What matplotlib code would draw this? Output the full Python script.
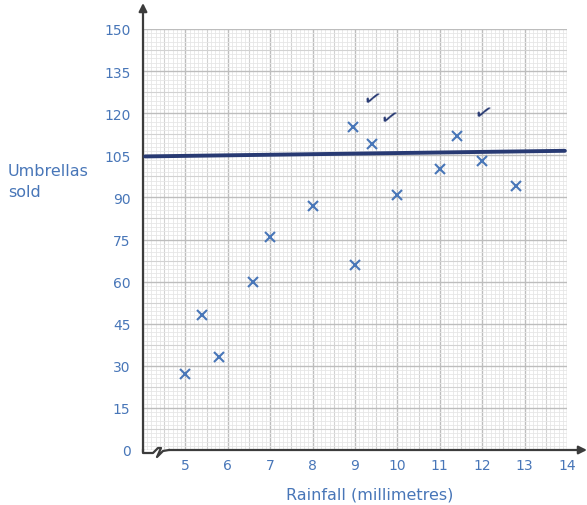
import matplotlib
matplotlib.use("Agg")
import matplotlib.pyplot as plt
import numpy as np

# ---- data ----
rainfall = [5.0, 5.4, 5.8, 6.6, 7.0, 8.0, 9.0, 8.95, 9.4, 10.0, 11.0, 11.4, 12.0, 12.8]
umbrellas = [27, 48, 33, 60, 76, 87, 66, 115, 109, 91, 100, 112, 103, 94]
line_x = [4.05, 13.95]
line_y = [104.6, 106.6]
check_x = [9.4, 9.8, 12.0]
check_y = [125, 118, 120]
x_ticks = [5, 6, 7, 8, 9, 10, 11, 12, 13, 14]
y_ticks = [0, 15, 30, 45, 60, 75, 90, 105, 120, 135, 150]

W, H = 587, 506
fig = plt.figure(figsize=(W / 100, H / 100), dpi=100)
ax = fig.add_axes([143 / W, (H - 451) / H, 424 / W, 421 / H])

blue = "#4876b8"
navy = "#283a73"
axis_col = "#3c3c3c"
font = "DejaVu Sans"

ax.set_xlim(4, 14)
ax.set_ylim(0, 150)

# graph paper grid
def style(r):
    if r == 0:
        return "#bdbdbd", 1.0
    if r == 5:
        return "#d2d2d2", 0.8
    return "#e6e6e6", 0.6

for v in np.arange(4, 14.001, 0.1):
    c, lw = style(round(v * 10) % 10)
    ax.axvline(v, color=c, lw=lw, zorder=0)
for v in np.arange(0, 150.001, 1.5):
    c, lw = style(round(v / 1.5) % 10)
    ax.axhline(v, color=c, lw=lw, zorder=0)

# points
ax.plot(rainfall, umbrellas, linestyle="none", marker="x", color=blue,
        markersize=7, markeredgewidth=1.5, zorder=3)

# hand-drawn horizontal line
ax.plot(line_x, line_y, color=navy, lw=2.8, solid_capstyle="round", zorder=4)

# check marks
for cx, cy in zip(check_x, check_y):
    ax.text(cx, cy, "\u2713", color=navy, fontsize=16, ha="center", va="center",
            rotation=-15, family=font, zorder=5)

# spines / axes
for s in ax.spines.values():
    s.set_visible(False)
ax.tick_params(length=0)
ax.set_xticks(x_ticks)
ax.set_yticks(y_ticks)
ax.set_xticklabels([str(t) for t in x_ticks], color=blue, fontsize=10, family=font)
ax.set_yticklabels([str(t) for t in y_ticks], color=blue, fontsize=10, family=font)
ax.tick_params(axis="x", pad=6)
ax.tick_params(axis="y", pad=9)

def fx(px):
    return (px - 143) / 424

def fy(py):
    return (451 - py) / 421

# y axis with arrow
ax.annotate("", xy=(0, fy(4)), xytext=(0, fy(453)), xycoords="axes fraction",
            arrowprops=dict(arrowstyle="-|>", color=axis_col, lw=1.6,
                            mutation_scale=12, shrinkA=0, shrinkB=0),
            annotation_clip=False)
# break zigzag at origin
zz_x = [143, 143, 153, 158, 161, 157, 163, 169]
zz_y = [451, 454, 454, 449, 449, 458, 452, 451]
ax.plot([fx(p) for p in zz_x], [fy(p) for p in zz_y], color=axis_col, lw=1.6,
        transform=ax.transAxes, clip_on=False, zorder=6)
# x axis with arrow
ax.annotate("", xy=(fx(587), fy(451)), xytext=(fx(169), fy(451)), xycoords="axes fraction",
            arrowprops=dict(arrowstyle="-|>", color=axis_col, lw=1.6,
                            mutation_scale=12, shrinkA=0, shrinkB=0),
            annotation_clip=False)

# axis titles
fig.text(8 / W, 1 - 182 / H, "Umbrellas\nsold", color=blue, fontsize=11.5,
         family=font, ha="left", va="center", linespacing=1.5)
fig.text(370 / W, 1 - 495 / H, "Rainfall (millimetres)", color=blue, fontsize=11.5,
         family=font, ha="center", va="center")

fig.savefig("out.png", dpi=100)
